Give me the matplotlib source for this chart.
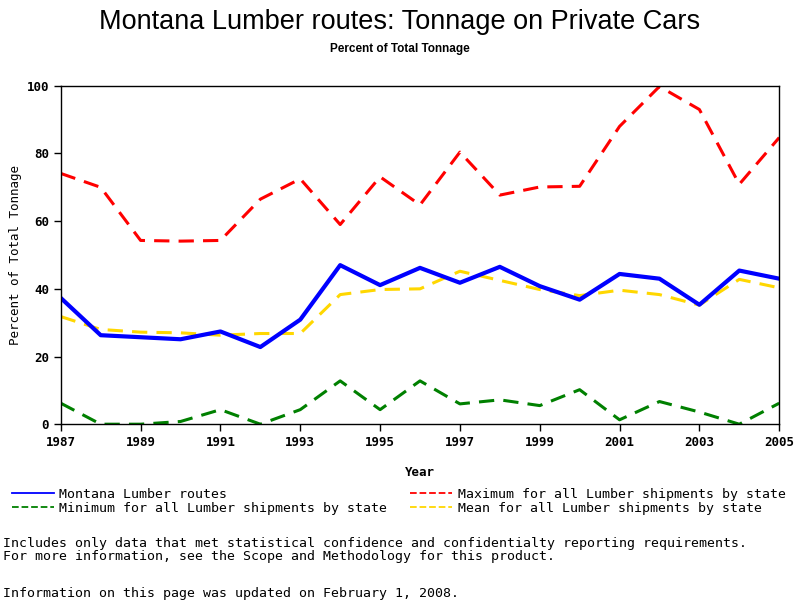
import matplotlib
matplotlib.use("Agg")
import matplotlib.pyplot as plt
from matplotlib.lines import Line2D

years = list(range(1987, 2006))
montana = [37.3, 26.3, 25.7, 25.1, 27.4, 22.8, 30.9, 47.0, 41.1, 46.2,
           41.8, 46.5, 40.8, 36.8, 44.4, 43.0, 35.3, 45.4, 43.0]
maximum = [74.1, 70.0, 54.3, 54.1, 54.3, 66.5, 72.5, 59.0, 73.1, 64.8,
           80.4, 67.7, 70.1, 70.3, 88.0, 99.8, 93.0, 70.9, 84.7]
minimum = [6.2, 0.0, 0.0, 0.8, 4.3, 0.0, 4.3, 12.8, 4.3, 12.8,
           6.0, 7.2, 5.5, 10.2, 1.3, 6.7, 3.6, 0.0, 6.2]
mean = [31.8, 28.0, 27.2, 27.0, 26.3, 26.8, 26.8, 38.3, 39.8, 40.0,
        45.2, 42.5, 39.8, 38.0, 39.6, 38.3, 35.2, 42.8, 40.3]
xticks = list(range(1987, 2006, 2))
yticks = [0, 20, 40, 60, 80, 100]

mono = "DejaVu Sans Mono"

fig = plt.figure(figsize=(8, 6), dpi=100)
ax = fig.add_axes([0.076, 0.293, 0.898, 0.564])

ax.plot(years, maximum, color="#ff0000", lw=2.2, dashes=(5, 3))
ax.plot(years, mean, color="#ffd700", lw=2.2, dashes=(5, 3))
ax.plot(years, minimum, color="#008000", lw=2.2, dashes=(5, 3))
ax.plot(years, montana, color="#0000ff", lw=3)

ax.set_xlim(1987, 2005)
ax.set_ylim(0, 100)
ax.set_xticks(xticks)
ax.set_yticks(yticks)
ax.tick_params(direction="out", length=5, width=1, labelsize=9)
for lab in ax.get_xticklabels() + ax.get_yticklabels():
    lab.set_fontfamily(mono)
    lab.set_fontweight("bold")
for s in ax.spines.values():
    s.set_linewidth(1)

ax.set_xlabel("Year", fontfamily=mono, fontsize=9, fontweight="bold", labelpad=12)
ax.set_ylabel("Percent of Total Tonnage", fontfamily=mono, fontsize=9, labelpad=3)

fig.text(0.5, 0.963, "Montana Lumber routes: Tonnage on Private Cars",
         ha="center", va="center", fontsize=19.5, family="Liberation Sans")
fig.text(0.5, 0.918, "Percent of Total Tonnage", ha="center", va="center",
         fontsize=8.5, family="Liberation Sans", fontweight="bold")

# legend drawn by hand below the axes
leg = [
    (0.015, 0.176, "#0000ff", "-", "Montana Lumber routes"),
    (0.015, 0.152, "#008000", "--", "Minimum for all Lumber shipments by state"),
    (0.513, 0.176, "#ff0000", "--", "Maximum for all Lumber shipments by state"),
    (0.513, 0.152, "#ffd700", "--", "Mean for all Lumber shipments by state"),
]
for x, y, c, ls, txt in leg:
    fig.add_artist(Line2D([x, x + 0.052], [y + 0.003, y + 0.003], color=c, lw=1.3,
                          ls=ls, transform=fig.transFigure))
    fig.text(x + 0.059, y, txt, fontsize=9.5, family=mono, va="center")

fig.text(0.004, 0.095, "Includes only data that met statistical confidence and confidentialty reporting requirements.",
         fontsize=9.5, family=mono, va="center")
fig.text(0.004, 0.073, "For more information, see the Scope and Methodology for this product.",
         fontsize=9.5, family=mono, va="center")
fig.text(0.004, 0.010, "Information on this page was updated on February 1, 2008.",
         fontsize=9.5, family=mono, va="center")

fig.savefig("out.png", dpi=100)
